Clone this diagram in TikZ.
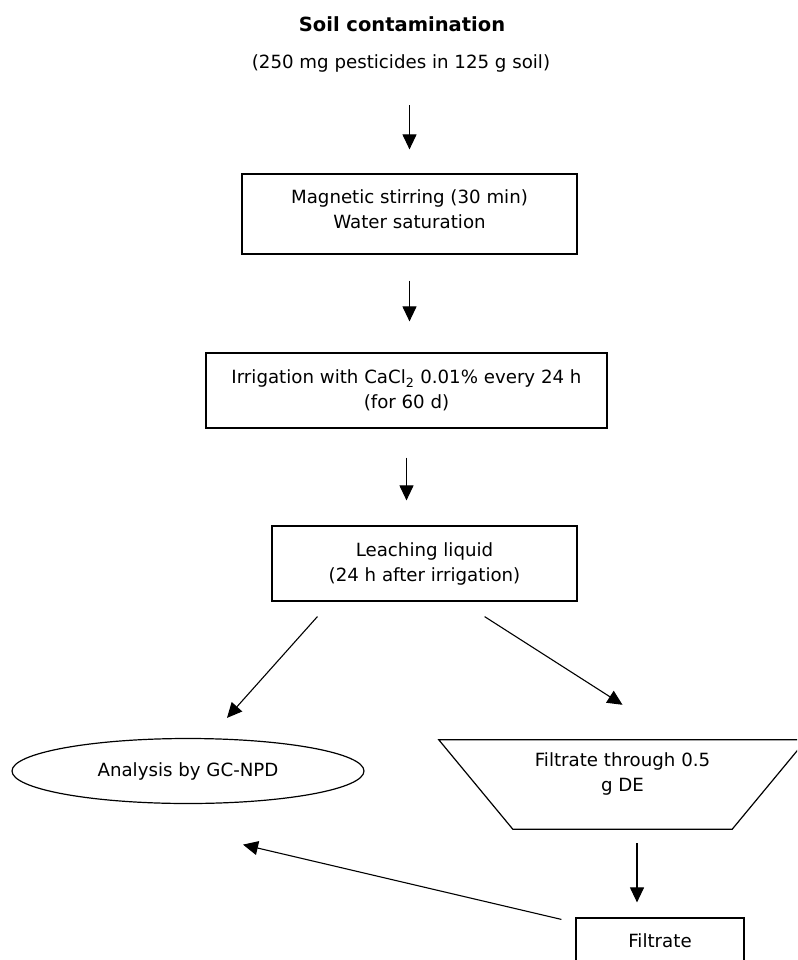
\documentclass[tikz,border=0pt]{standalone}
\usepackage{fontspec}
\setmainfont{DejaVu Sans}
\usetikzlibrary{arrows.meta,shapes.geometric}
\begin{document}
\begin{tikzpicture}[x=1pt,y=-1pt,font=\fontsize{18.2}{25}\selectfont,
  box/.style={draw,line width=1.2pt,align=center,inner sep=0pt},
  arr/.style={line width=1.1pt,-{Triangle[length=15pt,width=14pt]}}]
\clip (0,0) rectangle (797,960);

\node[font=\fontsize{19.5}{25}\selectfont\bfseries] (title) at (402,24) {Soil contamination};
\node[inner sep=0pt,text height=14pt,text depth=5pt] (dose) at (401,64) {(250 mg pesticides in 125 g soil)};

\node[box,minimum width=335pt,minimum height=80pt] (stir) at (409.5,214) {Magnetic stirring (30 min)\\Water saturation\\[-15pt]};
\node[box,minimum width=401pt,minimum height=75pt] (irr) at (406.5,390.5) {Irrigation with CaCl\textsubscript{2} 0.01\% every 24 h\\(for 60 d)};
\node[box,minimum width=305pt,minimum height=75pt] (leach) at (424.5,563.5) {Leaching liquid\\(24 h after irrigation)};

\node[box,ellipse,minimum width=352pt,minimum height=65pt] (gc) at (188,771) {Analysis by GC-NPD};
\node[inner sep=0pt,minimum width=367pt,minimum height=89pt] (filt) at (622.5,784.5) {};
\draw[line width=1.2pt] (filt.north west) -- (filt.north east) -- ([xshift=-74pt]filt.south east)
  -- ([xshift=74pt]filt.south west) -- cycle;
\node[align=center] (filttext) at ([yshift=10.5pt]filt.center) {Filtrate through 0.5\\g DE};
\node[box,minimum width=168pt,minimum height=46pt] (res) at (660,941) {Filtrate};

\draw[arr,shorten <=31.5pt,shorten >=24pt] (stir.north |- dose.south) -- (stir.north);
\draw[arr,shorten <=26pt,shorten >=31pt] (stir.south) -- (stir.south |- irr.north);
\draw[arr,shorten <=29pt,shorten >=25pt] (irr.south) -- (irr.south |- leach.north);
\draw[arr] ([shift={(46,15)}]leach.south west) -- ([shift={(39,-20)}]gc.north);
\draw[arr] ([shift={(-93,15)}]leach.south east) -- ([shift={(0,-35)}]filt.north);
\draw[arr] ([shift={(14.5,14)}]filt.south) -- ([shift={(-23,-15)}]res.north);
\draw[arr] ([shift={(-14,2)}]res.north west) -- ([shift={(55,40.5)}]gc.south);
\end{tikzpicture}
\end{document}
